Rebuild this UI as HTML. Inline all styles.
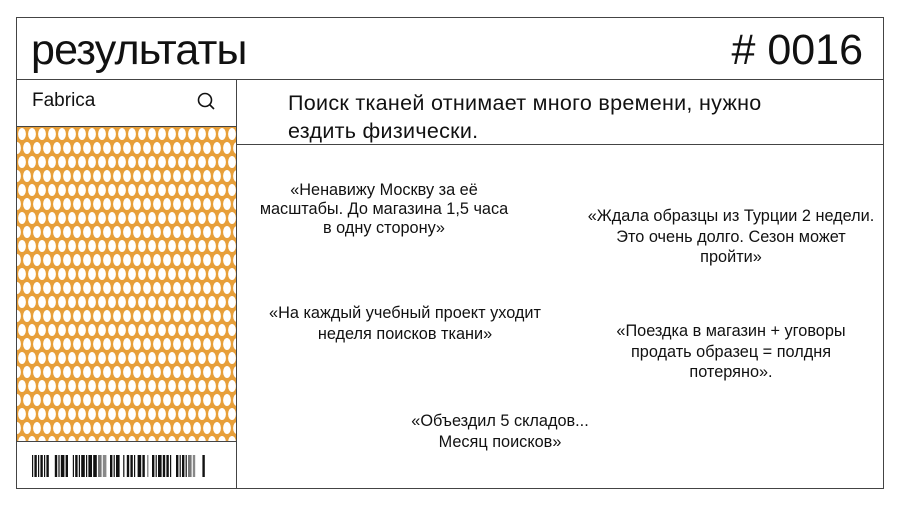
<!DOCTYPE html>
<html><head><meta charset="utf-8"><style>
*{margin:0;padding:0;box-sizing:border-box}
body{width:900px;height:506px;background:#fff;position:relative;overflow:hidden;font-family:"Liberation Sans",sans-serif;color:#111}
.l{position:absolute;background:#444}
.t{position:absolute;white-space:nowrap}
.q{position:absolute;text-align:center;font-size:16.3px;line-height:20.5px;white-space:nowrap;transform:translateX(-50%)}
</style></head><body>
<div class="l" style="left:16px;top:17px;width:868px;height:1px"></div>
<div class="l" style="left:16px;top:488px;width:868px;height:1px"></div>
<div class="l" style="left:16px;top:17px;width:1px;height:472px"></div>
<div class="l" style="left:883px;top:17px;width:1px;height:472px"></div>
<div class="l" style="left:16px;top:79px;width:868px;height:1px"></div>
<div class="l" style="left:236px;top:79px;width:1px;height:410px"></div>
<div class="l" style="left:16px;top:126px;width:220px;height:1px"></div>
<div class="l" style="left:16px;top:441px;width:220px;height:1px"></div>
<div class="l" style="left:236px;top:144px;width:648px;height:1px"></div>

<div class="t" style="left:31px;top:26px;font-size:43px;letter-spacing:-0.8px">результаты</div>
<div class="t" style="right:37px;top:26px;font-size:43px">#&nbsp;0016</div>
<div class="t" style="left:32px;top:90px;font-size:19px">Fabrica</div>
<svg style="position:absolute;left:196px;top:91px" width="22" height="20"><circle cx="9" cy="9" r="6.5" fill="none" stroke="#111" stroke-width="1.6"/><line x1="14" y1="14" x2="18" y2="18" stroke="#111" stroke-width="1.6"/></svg>
<div class="t" style="left:288px;top:89px;font-size:21.5px;line-height:28px;letter-spacing:0.3px">Поиск тканей отнимает много времени, нужно<br>ездить физически.</div>

<svg style="position:absolute;left:17px;top:127px" width="219" height="314">
<defs><pattern id="p" width="10" height="28" patternUnits="userSpaceOnUse">
<rect width="10" height="28" fill="#e79f3a"/>
<ellipse cx="5" cy="7" rx="3.9" ry="6" fill="#fff"/>
<ellipse cx="0" cy="21" rx="3.9" ry="6" fill="#fff"/>
<ellipse cx="10" cy="21" rx="3.9" ry="6" fill="#fff"/>
</pattern></defs>
<rect width="219" height="314" fill="url(#p)"/>
</svg>

<svg style="position:absolute;left:32px;top:455px" width="176" height="22">
<g fill="#111" transform="scale(1.2,1)">
<rect x="0" width="1" height="22"/><rect x="2" width="2" height="22"/><rect x="5" width="1" height="22"/><rect x="7" width="2" height="22"/><rect x="10" width="1" height="22"/><rect x="12" width="2" height="22"/>
<rect x="19" width="2" height="22"/><rect x="22" width="1" height="22"/><rect x="24" width="3" height="22"/><rect x="28" width="2" height="22"/>
<rect x="34" width="1" height="22"/><rect x="36" width="2" height="22"/><rect x="39" width="1" height="22"/><rect x="41" width="3" height="22"/><rect x="45" width="1" height="22"/><rect x="47" width="3" height="22"/><rect x="51" width="3" height="22"/>
<rect x="55" width="3" height="22" fill="#777"/><rect x="59" width="3" height="22" fill="#888"/>
<rect x="65" width="2" height="22"/><rect x="68" width="1" height="22"/><rect x="70" width="3" height="22"/><rect x="76" width="1" height="22"/><rect x="79" width="2" height="22"/><rect x="82" width="2" height="22"/><rect x="85" width="1" height="22"/><rect x="88" width="3" height="22"/><rect x="92" width="2" height="22"/><rect x="96" width="1" height="22" fill="#777"/>
<rect x="100" width="2" height="22"/><rect x="103" width="1" height="22"/><rect x="105" width="3" height="22"/><rect x="109" width="2" height="22"/><rect x="112" width="2" height="22"/><rect x="115" width="1" height="22"/>
<rect x="120" width="2" height="22"/><rect x="123" width="1" height="22"/><rect x="125" width="2" height="22"/><rect x="128" width="1" height="22"/><rect x="130" width="3" height="22" fill="#777"/><rect x="134" width="2" height="22" fill="#888"/>
<rect x="142" width="2" height="22"/>
</g></svg>

<div class="q" style="left:384px;top:181px;line-height:19px">«Ненавижу Москву за её<br>масштабы. До магазина 1,5 часа<br>в одну сторону»</div>
<div class="q" style="left:731px;top:206px">«Ждала образцы из Турции 2 недели.<br>Это очень долго. Сезон может<br>пройти»</div>
<div class="q" style="left:405px;top:303px">«На каждый учебный проект уходит<br>неделя поисков ткани»</div>
<div class="q" style="left:731px;top:321px">«Поездка в магазин + уговоры<br>продать образец = полдня<br>потеряно».</div>
<div class="q" style="left:500px;top:411px">«Объездил 5 складов...<br>Месяц поисков»</div>
</body></html>
